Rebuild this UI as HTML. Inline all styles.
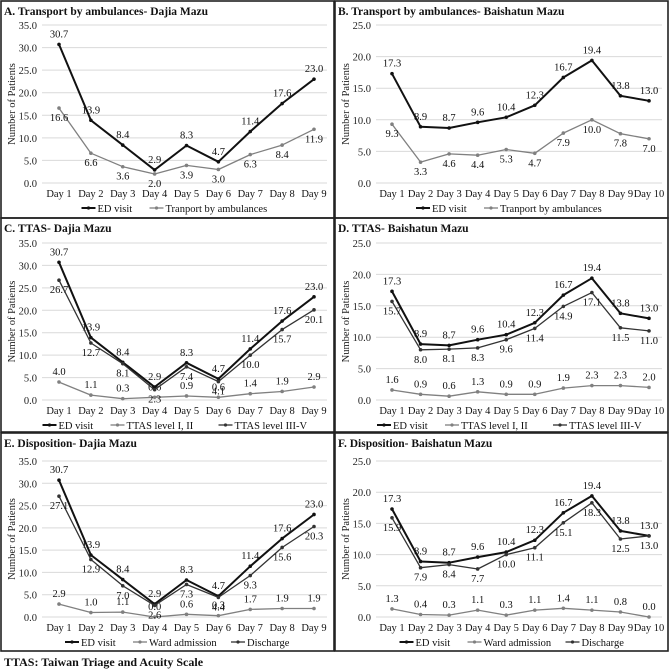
<!DOCTYPE html>
<html><head><meta charset="utf-8">
<style>
html,body{margin:0;padding:0;background:#fff;}
svg{display:block;font-family:"Liberation Serif",serif;}
</style></head>
<body>
<svg id="chart" width="669" height="669" viewBox="0 0 669 669" xmlns="http://www.w3.org/2000/svg">
<rect x="0" y="0" width="669" height="669" fill="#fff"/>
<g id="root"></g>
<text x="4" y="666" font-size="12" font-weight="bold" fill="#111">TTAS: Taiwan Triage and Acuity Scale</text>
</svg>
<script>
// ---- data ----
const days9 = ["Day 1","Day 2","Day 3","Day 4","Day 5","Day 6","Day 7","Day 8","Day 9"];
const days10 = ["Day 1","Day 2","Day 3","Day 4","Day 5","Day 6","Day 7","Day 8","Day 9","Day 10"];
const ticksDajia = [0,5,10,15,20,25,30,35];
const ticksBai = [0,5,10,15,20,25];
const edDajia = [30.7,13.9,8.4,2.9,8.3,4.7,11.4,17.6,23.0];
const edBai = [17.3,8.9,8.7,9.6,10.4,12.3,16.7,19.4,13.8,13.0];
const ambDajia = [16.6,6.6,3.6,2.0,3.9,3.0,6.3,8.4,11.9];
const ambBai = [9.3,3.3,4.6,4.4,5.3,4.7,7.9,10.0,7.8,7.0];
const ttas12Dajia = [4.0,1.1,0.3,0.6,0.9,0.6,1.4,1.9,2.9];
const ttas35Dajia = [26.7,12.7,8.1,2.3,7.4,4.1,10.0,15.7,20.1];
const ttas12Bai = [1.6,0.9,0.6,1.3,0.9,0.9,1.9,2.3,2.3,2.0];
const ttas35Bai = [15.7,8.0,8.1,8.3,9.6,11.4,14.9,17.1,11.5,11.0];
const wardDajia = [2.9,1.0,1.1,0.0,0.6,0.3,1.7,1.9,1.9];
const dischDajia = [27.1,12.9,7.0,2.6,7.3,4.4,9.3,15.6,20.3];
const wardBai = [1.3,0.4,0.3,1.1,0.3,1.1,1.4,1.1,0.8,0.0];
const dischBai = [15.9,7.9,8.4,7.7,10.0,11.1,15.1,18.3,12.5,13.0];

const NS="http://www.w3.org/2000/svg";
const root=document.getElementById('root');
function el(tag,attrs,parent){const e=document.createElementNS(NS,tag);for(const k in attrs)e.setAttribute(k,attrs[k]);(parent||root).appendChild(e);return e;}
function txt(s,attrs,parent){const e=el('text',attrs,parent);e.textContent=s;return e;}

function panel(cfg){
  const g=el('g',{});
  
  
  const b=el('rect',{x:cfg.x0+1,y:cfg.y0+1,width:cfg.w-2,height:cfg.h-2,fill:'none',stroke:'#222','stroke-width':1.6},g);
  
  
  const t=txt(cfg.title,{x:cfg.x0+4,y:cfg.y0+15,'font-size':11.5,'font-weight':'bold',fill:'#111'},g);
  
  
  const ymax=cfg.ticks[cfg.ticks.length-1];
  const yS=v=>cfg.yBot-(v/ymax)*(cfg.yBot-cfg.yTop);
  const n=cfg.cats.length;
  const xS=i=>cfg.xFirst+i*(cfg.xLast-cfg.xFirst)/(n-1);
  const gx0=cfg.gridL, gx1=cfg.gridR;
  cfg.ticks.forEach(v=>{
    const gl=el('line',{x1:gx0,x2:gx1,y1:yS(v),y2:yS(v),stroke:'#d9d9d9','stroke-width':1},g);
    
    
    const tl=txt(v.toFixed(1),{x:gx0-5,y:yS(v)+4,'text-anchor':'end','font-size':10.5,fill:'#222'},g);
    
    
  });
  const yt=txt('Number of Patients',{transform:`translate(${cfg.x0+15},${(cfg.yTop+cfg.yBot)/2}) rotate(-90)`,'text-anchor':'middle','font-size':10.5,fill:'#222'},g);
  
  
  cfg.cats.forEach((c,i)=>{
    const xl=txt(c,{x:xS(i),y:cfg.yBot+14,'text-anchor':'middle','font-size':10.5,fill:'#111'},g);
    
    
  });
  cfg.series.forEach(s=>{
    const pts=s.vals.map((v,i)=>xS(i).toFixed(1)+','+yS(v).toFixed(1)).join(' ');
    const pl=el('polyline',{points:pts,fill:'none',stroke:s.color,'stroke-width':s.w,'stroke-linejoin':'round'},g);
    
    
    s.vals.forEach((v,i)=>{
      const m=el('circle',{cx:xS(i),cy:yS(v),r:1.8,fill:s.color},g);
      
      
      const dy=s.pos==='above'?-7:13;
      const lb=txt(v.toFixed(1),{x:xS(i),y:yS(v)+dy,'text-anchor':'middle','font-size':10.5,fill:'#111'},g);
      
      
    });
  });
  // legend
  const ly=cfg.yBot+29;
  const widths=cfg.series.map(s=>18+s.label.length*5.0+10);
  const total=widths.reduce((a,b)=>a+b,0);
  let lx=(gx0+gx1)/2-total/2;
  cfg.series.forEach((s,k)=>{
    const le=el('g',{},g);
    
    
    el('line',{x1:lx,x2:lx+14,y1:ly-4,y2:ly-4,stroke:s.color,'stroke-width':s.w},le);
    el('circle',{cx:lx+7,cy:ly-4,r:1.6,fill:s.color},le);
    txt(s.label,{x:lx+16,y:ly,'font-size':10.5,fill:'#111'},le);
    lx+=widths[k];
  });
}

const L={x0:0,w:335}, R={x0:334,w:335};
const rowA={y0:0,h:219,yTop:25,yBot:183};
const rowC={y0:217,h:216,yTop:243,yBot:400};
const rowE={y0:432,h:220,yTop:461,yBot:617};
const leftX={xFirst:59,xLast:314,gridL:42,gridR:327};
const rightX={xFirst:392,xLast:649,gridL:376,gridR:662};
const ED='#111', GR='#808080', DK='#333';

panel(Object.assign({name:'panel-a',title:'A. Transport by ambulances- Dajia Mazu',cats:days9,ticks:ticksDajia,series:[
 {key:'ed-visit',label:'ED visit',vals:edDajia,color:ED,w:2,pos:'above'},
 {key:'transport',label:'Tranport by ambulances',vals:ambDajia,color:GR,w:1.3,pos:'below'}]},L,rowA,leftX));
panel(Object.assign({name:'panel-b',title:'B. Transport by ambulances- Baishatun Mazu',cats:days10,ticks:ticksBai,series:[
 {key:'ed-visit',label:'ED visit',vals:edBai,color:ED,w:2,pos:'above'},
 {key:'transport',label:'Tranport by ambulances',vals:ambBai,color:GR,w:1.3,pos:'below'}]},R,rowA,rightX));
panel(Object.assign({name:'panel-c',title:'C. TTAS- Dajia Mazu',cats:days9,ticks:ticksDajia,series:[
 {key:'ed-visit',label:'ED visit',vals:edDajia,color:ED,w:2,pos:'above'},
 {key:'ttas-1-2',label:'TTAS level I, II',vals:ttas12Dajia,color:GR,w:1.3,pos:'above'},
 {key:'ttas-3-5',label:'TTAS level III-V',vals:ttas35Dajia,color:DK,w:1.3,pos:'below'}]},L,rowC,leftX));
panel(Object.assign({name:'panel-d',title:'D. TTAS- Baishatun Mazu',cats:days10,ticks:ticksBai,series:[
 {key:'ed-visit',label:'ED visit',vals:edBai,color:ED,w:2,pos:'above'},
 {key:'ttas-1-2',label:'TTAS level I, II',vals:ttas12Bai,color:GR,w:1.3,pos:'above'},
 {key:'ttas-3-5',label:'TTAS level III-V',vals:ttas35Bai,color:DK,w:1.3,pos:'below'}]},R,rowC,rightX));
panel(Object.assign({name:'panel-e',title:'E. Disposition- Dajia Mazu',cats:days9,ticks:ticksDajia,series:[
 {key:'ed-visit',label:'ED visit',vals:edDajia,color:ED,w:2,pos:'above'},
 {key:'ward',label:'Ward admission',vals:wardDajia,color:GR,w:1.3,pos:'above'},
 {key:'discharge',label:'Discharge',vals:dischDajia,color:DK,w:1.3,pos:'below'}]},L,rowE,leftX));
panel(Object.assign({name:'panel-f',title:'F. Disposition- Baishatun Mazu',cats:days10,ticks:ticksBai,series:[
 {key:'ed-visit',label:'ED visit',vals:edBai,color:ED,w:2,pos:'above'},
 {key:'ward',label:'Ward admission',vals:wardBai,color:GR,w:1.3,pos:'above'},
 {key:'discharge',label:'Discharge',vals:dischBai,color:DK,w:1.3,pos:'below'}]},R,rowE,rightX));
</script>
</body></html>
